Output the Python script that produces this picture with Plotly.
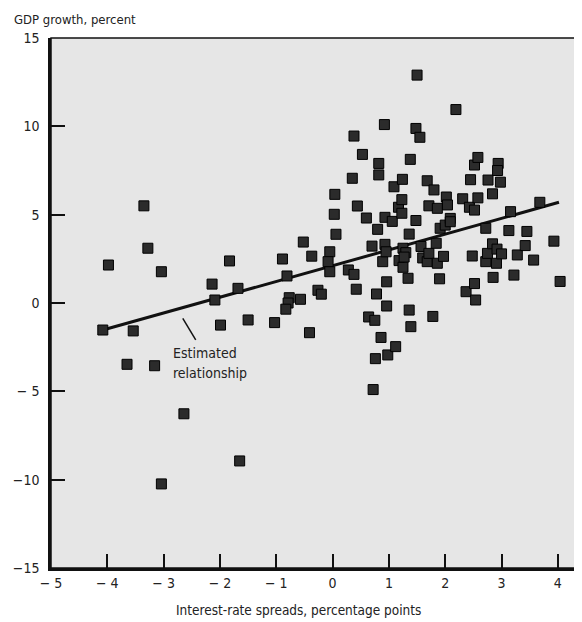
import plotly.graph_objects as go

# Interest-rate spread (percentage points) and GDP growth (percent)
spread = [-4.08, -3.98, -3.65, -3.54, -3.35, -3.28, -3.16, -3.04, -3.04, -2.64,
          -2.14, -2.09, -1.99, -1.83, -1.68, -1.65, -1.50, -1.03, -0.89, -0.81,
          -0.77, -0.79, -0.83, -0.57, -0.52, -0.41, -0.37, -0.26, -0.20, -0.05,
          -0.08, -0.05, 0.04, 0.03, 0.06, 0.28, 0.38, 0.35, 0.38, 0.42,
          0.44, 0.53, 0.60, 0.64, 0.75, 0.70, 0.72, 0.76, 0.78, 0.80,
          0.82, 0.82, 0.86, 0.89, 0.92, 0.93, 0.93, 0.95, 0.96, 0.96,
          0.98, 1.06, 1.09, 1.12, 1.17, 1.18, 1.23, 1.23, 1.24, 1.25,
          1.30, 1.25, 1.34, 1.36, 1.36, 1.38, 1.39, 1.48, 1.50, 1.55,
          1.48, 1.57, 1.60, 1.68, 1.68, 1.71, 1.71, 1.78, 1.80, 1.84,
          1.86, 1.86, 1.90, 1.91, 1.97, 2.00, 2.02, 2.04, 2.09, 2.09,
          2.19, 2.31, 2.37, 2.43, 2.45, 2.48, 2.52, 2.52, 2.52, 2.54,
          2.58, 2.58, 2.72, 2.72, 2.75, 2.76, 2.84, 2.84, 2.85, 2.91,
          2.92, 3.00, 2.94, 2.93, 2.98, 3.13, 3.16, 3.22, 3.28, 3.42,
          3.45, 3.57, 3.68, 3.93, 4.04, 1.27]
growth = [-1.53, 2.15, -3.47, -1.58, 5.50, 3.10, -3.55, 1.77, -10.24, -6.27,
          1.07, 0.17, -1.25, 2.38, 0.83, -8.94, -0.96, -1.11, 2.49, 1.53,
          0.30, 0.00, -0.35, 0.21, 3.45, -1.68, 2.65, 0.72, 0.50, 2.90,
          2.34, 1.77, 6.15, 5.02, 3.89, 1.87, 1.62, 7.06, 9.45, 0.78,
          5.49, 8.41, 4.81, -0.79, -0.98, 3.22, -4.90, -3.15, 0.51, 4.17,
          7.90, 7.25, -1.95, 2.34, 10.10, 4.85, 3.32, 2.90, 1.20, -0.17,
          -2.94, 4.62, 6.58, -2.47, 5.42, 2.40, 5.85, 5.08, 7.00, 3.10,
          2.85, 2.02, 1.40, 3.90, -0.40, 8.13, -1.34, 9.88, 12.90, 9.38,
          4.67, 3.20, 2.55, 2.34, 6.92, 5.50, 2.81, -0.76, 6.40, 3.38,
          5.36, 2.25, 1.37, 4.23, 2.64, 4.41, 6.00, 5.55, 4.79, 4.60,
          10.95, 5.90, 0.64, 5.42, 6.98, 2.66, 5.26, 1.10, 7.81, 0.17,
          8.24, 5.95, 4.23, 2.34, 2.81, 6.96, 3.35, 6.18, 1.45, 2.25,
          3.05, 2.78, 7.90, 7.50, 6.84, 4.10, 5.17, 1.58, 2.72, 3.25,
          4.05, 2.43, 5.70, 3.50, 1.22, 2.60]

# Estimated relationship (fitted line end points)
fit_x = [-4.08, 4.02]
fit_y = [-1.53, 5.70]

x_ticks = [-5, -4, -3, -2, -1, 0, 1, 2, 3, 4]
x_ticktext = ["\u2212 5", "\u2212 4", "\u2212 3", "\u2212 2", "\u2212 1", "0", "1", "2", "3", "4"]
y_ticks = [-15, -10, -5, 0, 5, 10, 15]
y_ticktext = ["\u221215", "\u221210", "\u2212 5", "0", "5", "10", "15"]

NARROW = "Liberation Sans Narrow, Arial Narrow, DejaVu Sans Condensed, sans-serif"
TXT = "#222222"

fig = go.Figure()
fig.add_trace(go.Scatter(
    x=fit_x, y=fit_y, mode="lines",
    line=dict(color="#111111", width=3), hoverinfo="skip", showlegend=False))
fig.add_trace(go.Scatter(
    x=spread, y=growth, mode="markers",
    marker=dict(symbol="square", size=10, color="#2b2b2b",
                line=dict(color="#000000", width=1)),
    showlegend=False))

# pointer for the label
fig.add_shape(type="line", x0=-2.66, y0=-0.87, x1=-2.43, y1=-2.09,
              line=dict(color="#111111", width=1.5))
fig.add_annotation(x=-2.87, y=-2.83, xanchor="left", yanchor="middle",
                   text="Estimated", showarrow=False, align="left",
                   font=dict(family=NARROW, size=14, color=TXT))
fig.add_annotation(x=-2.87, y=-3.96, xanchor="left", yanchor="middle",
                   text="relationship", showarrow=False, align="left",
                   font=dict(family=NARROW, size=14, color=TXT))

# chart heading inside the plot
fig.add_annotation(xref="x", yref="paper", x=-5.14, y=0.966,
                   xanchor="left", yanchor="middle", showarrow=False, align="left",
                   text="INTEREST-RATE SPREADS<sup>d</sup> AND GDP GROWTH:",
                   font=dict(family=NARROW, size=13.5, color="#1a1a1a"))
fig.add_annotation(xref="x", yref="paper", x=-5.14, y=0.928,
                   xanchor="left", yanchor="middle", showarrow=False, align="left",
                   text="AUGUST 1954 \u2013 DECEMBER 1995",
                   font=dict(family=NARROW, size=13.5, color="#1a1a1a"))

fig.add_annotation(xref="paper", yref="paper", x=-0.075, y=1.017,
                   xanchor="left", yanchor="bottom", showarrow=False,
                   text="GDP growth, percent",
                   font=dict(family=NARROW, size=13, color=TXT))
fig.add_annotation(xref="paper", yref="paper", x=0.47, y=-0.079,
                   xanchor="center", yanchor="middle", showarrow=False,
                   text="Interest-rate spreads, percentage points",
                   font=dict(family=NARROW, size=13.5, color=TXT))

# plot border
fig.add_shape(type="rect", xref="paper", yref="paper", x0=0, y0=0, x1=1, y1=1,
              line=dict(color="#111111", width=1.5), layer="above")

fig.update_xaxes(range=[-5, 4.34], tickvals=x_ticks, ticktext=x_ticktext,
                 ticks="inside", ticklen=14, tickwidth=2, tickcolor="#111111",
                 showgrid=False, zeroline=False, showline=True, linewidth=2.5,
                 linecolor="#111111",
                 tickfont=dict(family=NARROW, size=14, color=TXT))
fig.update_yaxes(range=[-15, 15], tickvals=y_ticks, ticktext=y_ticktext,
                 ticks="inside", ticklen=14, tickwidth=2, tickcolor="#111111",
                 showgrid=False, zeroline=False, showline=True, linewidth=2.5,
                 linecolor="#111111", ticklabelstandoff=6,
                 tickfont=dict(family=NARROW, size=14, color=TXT))

# page body has an 8px margin, so the figure is sized to fill the rest
fig.update_layout(
    width=574, height=614,
    margin=dict(l=30, r=5, t=30, b=54),
    plot_bgcolor="#e6e6e6", paper_bgcolor="#ffffff",
    showlegend=False,
)

fig.write_html("out.html")
